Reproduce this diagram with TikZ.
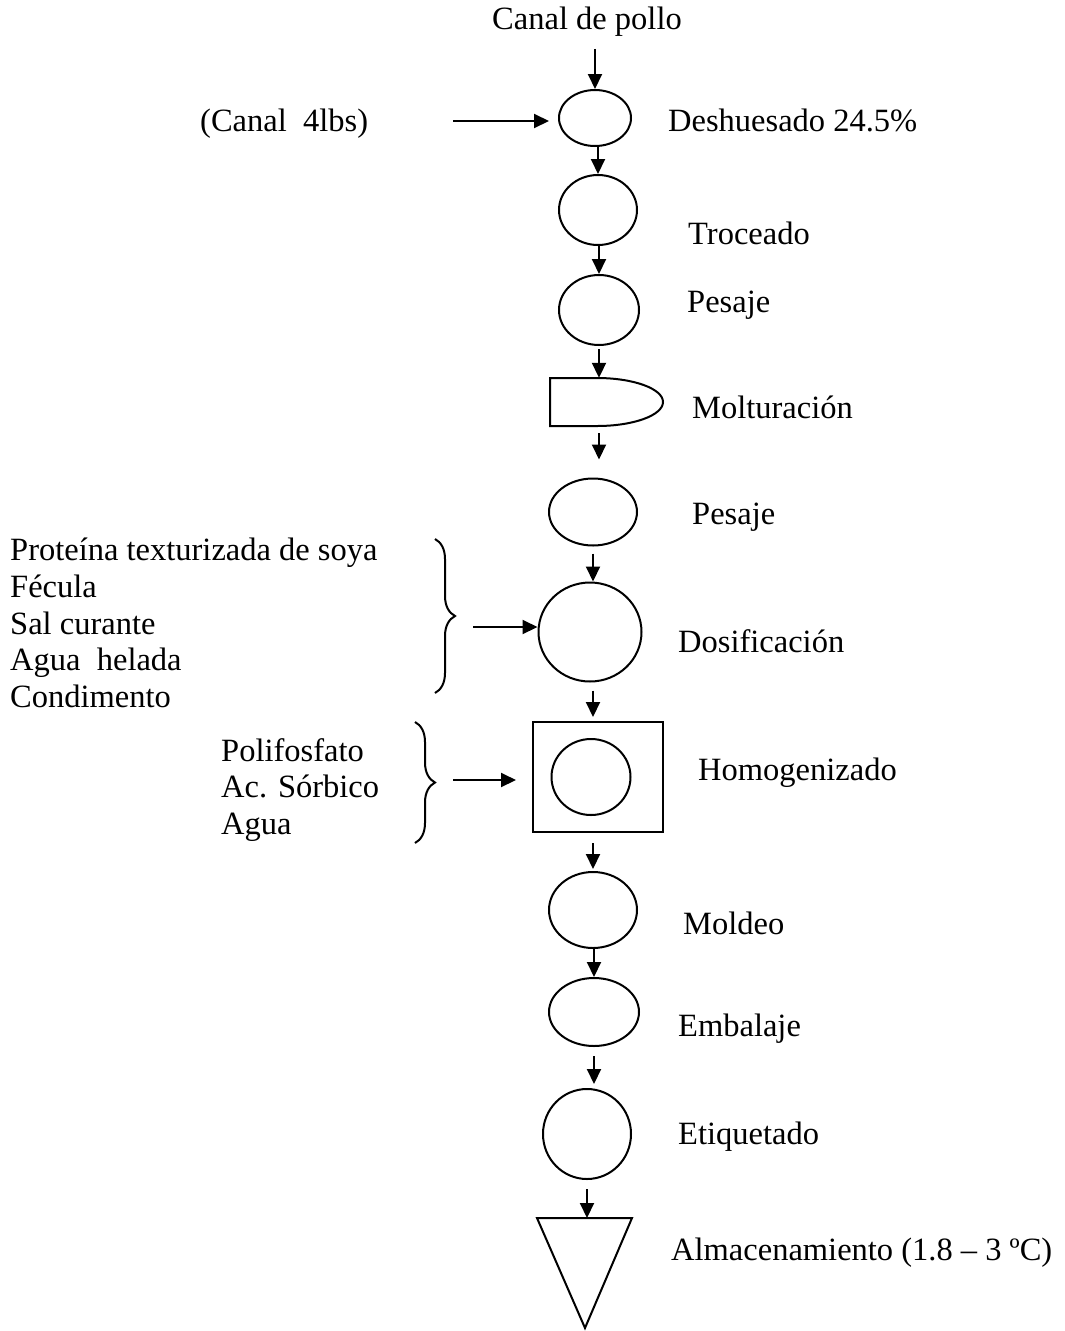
\documentclass[tikz,border=0pt]{standalone}
\usepackage{fontspec}
\setmainfont{Liberation Serif}
\usetikzlibrary{arrows.meta,shapes.geometric,decorations.pathreplacing}
\tikzset{
  ln/.style={line width=2pt},
  arr/.style={ln,-{Triangle[length=15pt,width=14pt]}},
  proc/.style={ellipse,draw,ln,inner sep=0pt},
  lbl/.style={anchor=base west,inner sep=0pt},
  blk/.style={anchor=west,align=left,inner sep=0pt},
  brc/.style={ln,decorate,decoration={brace,amplitude=20pt,aspect=0.5}},
}
\begin{document}
\begin{tikzpicture}[x=1pt,y=-1pt,font=\fontsize{32.5}{36.8}\selectfont]
\useasboundingbox (0,0) rectangle (1065,1331);
% process nodes
\node (canal) at (587,22) [inner sep=0pt] {Canal de pollo};
\node[proc,minimum width=72pt,minimum height=56pt] (e1) at (595,118) {};
\node[proc,minimum width=78pt,minimum height=70pt] (e2) at (598,210) {};
\node[proc,minimum width=80pt,minimum height=70pt] (e3) at (599,310) {};
\node[minimum width=113pt,minimum height=48pt,inner sep=0pt] (molt) at (606.5,402) {};
\draw[ln] (550,378) -- (597,378) .. controls (633.5,378) and (663,388.7) .. (663,402)
  .. controls (663,415.3) and (633.5,426) .. (597,426) -- (550,426) -- cycle;
\node[proc,minimum width=88pt,minimum height=67pt] (e4) at (593,512) {};
\node[proc,minimum width=103pt,minimum height=99pt] (e5) at (590,632) {};
\node[draw,ln,minimum width=130pt,minimum height=110pt,inner sep=0pt] (hom) at (598,777) {};
\node[proc,minimum width=79pt,minimum height=76pt] (homc) at (591,777) {};
\node[proc,minimum width=88pt,minimum height=76pt] (e6) at (593,910) {};
\node[proc,minimum width=90pt,minimum height=68pt] (e7) at (594,1012) {};
\node[proc,minimum width=88pt,minimum height=90pt] (e8) at (587,1134) {};
\draw[ln] (537,1218) -- (632,1218) -- (585,1328) -- cycle;
\coordinate (alm) at (587,1218);
% labels
\node[lbl] (l1) at (668,131) {Deshuesado 24.5\%};
\node[lbl] (l2) at (688,244) {Troceado};
\node[lbl] (l3) at (687,312) {Pesaje};
\node[lbl] (l4) at (692,418) {Molturación};
\node[lbl] (l5) at (692,524) {Pesaje};
\node[lbl] (l6) at (678,652) {Dosificación};
\node[lbl] (l7) at (698,780) {Homogenizado};
\node[lbl] (l8) at (683,934) {Moldeo};
\node[lbl] (l9) at (678,1036) {Embalaje};
\node[lbl] (l10) at (678,1144) {Etiquetado};
\node[lbl] (l11) at (671,1260) {Almacenamiento (1.8 – 3 ºC)};
\node[lbl] (can) at (200,131) {(Canal~~4lbs)};
\node[blk] (ing1) at (10,623) {Proteína texturizada de soya\\Fécula\\Sal curante\\Agua~~helada\\Condimento};
\node[blk] (ing2) at (221,790) {Polifosfato\\Ac. Sórbico\\Agua};
% braces
\draw[brc] (435,539) -- (435,693);
\draw[brc] (415,722) -- (415,843);
\coordinate (in0) at (453,121);
\coordinate (in1) at (473,627);
\coordinate (in2) at (453,780);
% connectors
\draw[arr,shorten <=12pt] (canal.south -| e1.north) -- (e1.north);
\draw[arr,shorten >=9pt] (in0) -- (in0 -| e1.west);
\draw[arr] (e2.north |- e1.south) -- (e2.north);
\draw[arr] (e3.north |- e2.south) -- (e3.north);
\draw[arr,shorten <=3pt] (e3.south) -- (e3.south |- molt.north);
\draw[arr,shorten <=7pt,shorten >=18pt] (e3.south |- molt.south) -- (e3.south |- e4.north);
\draw[arr,shorten <=7pt] (e4.south) -- (e4.south |- e5.north);
\draw[arr] (in1) -- (in1 -| e5.west);
\draw[arr,shorten <=8pt,shorten >=4pt] (e4.south |- e5.south) -- (e4.south |- hom.north);
\draw[arr,shorten >=16pt] (in2) -- (in2 -| hom.west);
\draw[arr,shorten <=10pt,shorten >=2pt] (e4.south |- hom.south) -- (e4.south |- e6.north);
\draw[arr] (e7.north |- e6.south) -- (e7.north);
\draw[arr,shorten <=9pt,shorten >=4pt] (e7.south) -- (e7.south |- e8.north);
\draw[arr,shorten <=9pt] (e8.south) -- (alm);
\end{tikzpicture}
\end{document}
